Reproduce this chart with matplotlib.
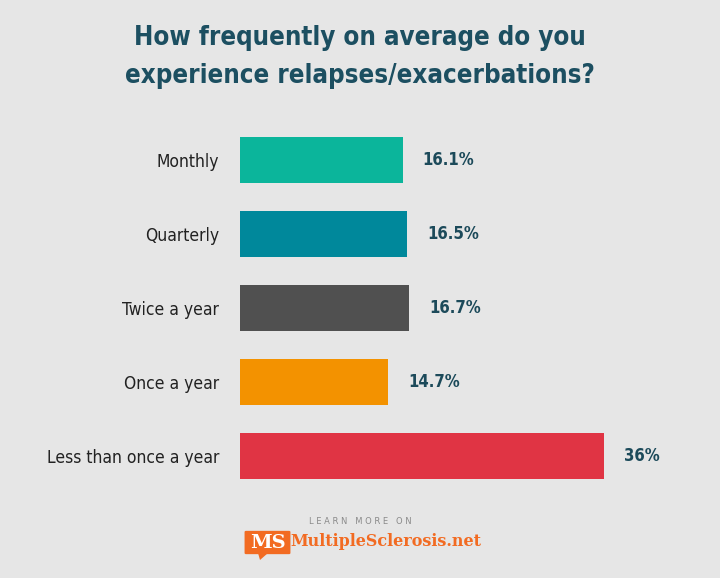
import matplotlib
matplotlib.use("Agg")
import matplotlib.pyplot as plt
from matplotlib.patches import FancyBboxPatch, Polygon

categories = ['Monthly', 'Quarterly', 'Twice a year', 'Once a year', 'Less than once a year']
values = [16.1, 16.5, 16.7, 14.7, 36]
value_labels = ['16.1%', '16.5%', '16.7%', '14.7%', '36%']
colors = ['#0bb59b', '#00889b', '#505050', '#f39200', '#e03444']

title = "How frequently on average do you\nexperience relapses/exacerbations?"

bg = '#e6e6e6'
narrow = ['DejaVu Sans']
orange = '#f26b22'

fig = plt.figure(figsize=(7.2, 5.78), dpi=100, facecolor=bg)
ax = fig.add_axes([240 / 720, 85 / 578, 404 / 720, 370 / 578])
ax.set_facecolor(bg)

ypos = list(range(len(categories)))
ax.barh(ypos, values, height=0.62, color=colors)
ax.set_xlim(0, 40)
ax.set_ylim(4.5, -0.5)

for y, v, lab in zip(ypos, values, value_labels):
    ax.text(v + 2, y, lab, va='center', ha='left', fontsize=12, fontweight='bold',
            color='#1c4a5a', family=narrow, fontstretch='condensed')

ax.set_yticks(ypos)
ax.set_yticklabels(categories, family=narrow, fontsize=12.5, color='#222222',
                   fontstretch='condensed')
ax.tick_params(axis='y', length=0, pad=15)
ax.set_xticks([])
for s in ax.spines.values():
    s.set_visible(False)

fig.text(0.5, 1 - 57 / 578, title, ha='center', va='center', fontsize=18.5,
         fontweight='bold', color='#1c4f61', family=narrow, fontstretch='condensed',
         linespacing=1.6)

# footer
fig.text(360 / 720, 1 - 522 / 578, 'L E A R N   M O R E   O N', ha='center', va='center',
         fontsize=6, color='#8a8a8a')
box = FancyBboxPatch((246 / 720, 1 - 553 / 578), 43 / 720, 21 / 578,
                     boxstyle='round,pad=0.002', transform=fig.transFigure,
                     facecolor=orange, edgecolor='none')
fig.patches.append(box)
tail = Polygon([(258 / 720, 1 - 553 / 578), (268 / 720, 1 - 553 / 578),
                (260 / 720, 1 - 560 / 578)], closed=True, transform=fig.transFigure,
               facecolor=orange, edgecolor='none')
fig.patches.append(tail)
fig.text(267.5 / 720, 1 - 542.5 / 578, 'MS', ha='center', va='center', fontsize=14,
         fontweight='bold', color='white', family='DejaVu Serif')
fig.text(290 / 720, 1 - 542 / 578, 'MultipleSclerosis.net', ha='left', va='center',
         fontsize=11.5, fontweight='bold', color=orange, family='DejaVu Serif')

fig.savefig('out.png', dpi=100, facecolor=bg)
